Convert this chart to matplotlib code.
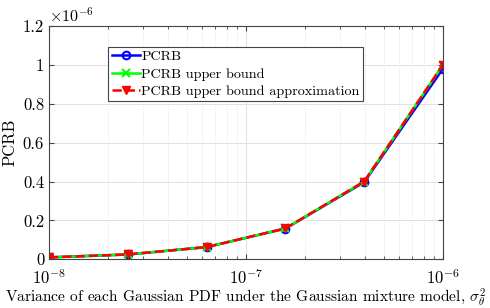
import matplotlib
matplotlib.use("Agg")
import matplotlib.pyplot as plt
from matplotlib.ticker import FuncFormatter

plt.rcParams["font.family"] = "serif"
plt.rcParams["font.serif"] = ["cmr10"]
plt.rcParams["mathtext.fontset"] = "cm"
plt.rcParams["axes.formatter.use_mathtext"] = True

# variance of each Gaussian component
variance = [1e-8, 2.51e-8, 6.31e-8, 1.585e-7, 3.98e-7, 1e-6]
pcrb = [1.0e-8, 2.5e-8, 6.3e-8, 1.58e-7, 3.96e-7, 0.98e-6]
pcrb_ub = [1.0e-8, 2.5e-8, 6.3e-8, 1.59e-7, 4.0e-7, 1.0e-6]
pcrb_ub_approx = [1.0e-8, 2.5e-8, 6.3e-8, 1.59e-7, 4.0e-7, 1.0e-6]

fig = plt.figure(figsize=(4.9, 3.08), dpi=100)
ax = fig.add_axes([0.1, 0.158, 0.804, 0.758])

ax.plot(variance, pcrb, color="blue", marker="o", mfc="none", ms=5.5, mew=1.5, lw=1.8, label="PCRB")
ax.plot(variance, pcrb_ub, color=(0, 1, 0), marker="x", ms=5.5, mew=1.5, lw=1.8, label="PCRB upper bound")
ax.plot(variance, pcrb_ub_approx, color="red", ls="--", marker="v", ms=5.5, lw=1.8,
        label="PCRB upper bound approximation")

ax.set_xscale("log")
ax.set_xlim(1e-8, 1e-6)
ax.set_ylim(0, 1.2e-6)
ax.set_yticks([0, 0.2e-6, 0.4e-6, 0.6e-6, 0.8e-6, 1.0e-6, 1.2e-6])
ax.yaxis.set_major_formatter(FuncFormatter(lambda v, p: "%g" % round(v * 1e6, 3)))
ax.text(0.0, 1.005, r"$\times10^{-6}$", transform=ax.transAxes, fontsize=11.5, va="bottom", ha="left")

ax.grid(True, which="major", color="#e0e0e0", lw=0.7)
ax.grid(True, which="minor", axis="x", color="#e0e0e0", ls=":", lw=0.7)
ax.tick_params(which="both", direction="in", top=True, right=True, labelsize=12, color="#444444")
ax.tick_params(axis="x", pad=6)
for s in ax.spines.values():
    s.set_color("#444444")

ax.set_xlabel(r"Variance of each Gaussian PDF under the Gaussian mixture model, $\sigma_\theta^2$",
              fontsize=11.1, labelpad=0)
ax.set_ylabel("PCRB", fontsize=12)

leg = ax.legend(loc="upper left", bbox_to_anchor=(0.15, 0.91), fontsize=10.2, fancybox=False,
                edgecolor="#444444", framealpha=1, borderpad=0.25, labelspacing=0.3,
                handlelength=2.0, handletextpad=0.1, borderaxespad=0)
leg.get_frame().set_linewidth(0.8)

fig.savefig("out.png", dpi=100)
